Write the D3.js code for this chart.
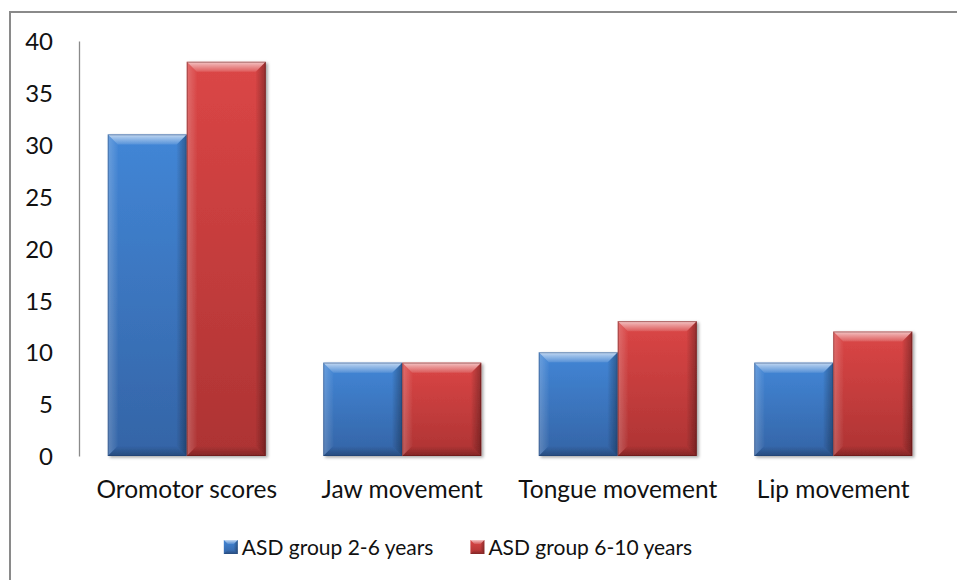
<!DOCTYPE html>
<html>
<head>
<meta charset="utf-8">
<script src="https://cdn.jsdelivr.net/npm/d3@7"></script>
<style>
  html, body { margin: 0; padding: 0; background: #fff; }
  svg { display: block; }
  text { font-family: Lato, "Open Sans", sans-serif; fill: #111; }
</style>
</head>
<body>
<svg id="chart" width="957" height="580"></svg>
<script>
// Oromotor assessment scores by age group
const categories = ["Oromotor scores", "Jaw movement", "Tongue movement", "Lip movement"];
const seriesNames = ["ASD group 2-6 years", "ASD group 6-10 years"];
const group2to6 = [31, 9, 10, 9];
const group6to10 = [38, 9, 13, 12];
const yTicks = [0, 5, 10, 15, 20, 25, 30, 35, 40];

const seriesValues = [group2to6, group6to10];
const palette = [
  { top: "#4286D6", bottom: "#3464A6", edge: "#1f3f6e", key: "blue" },
  { top: "#DB4646", bottom: "#AD3333", edge: "#5c1414", key: "red" }
];

const svg = d3.select("#chart");
const W = 957, H = 580;
const plot = { left: 79, right: 941, top: 41, bottom: 456 };

const defs = svg.append("defs");

// soft drop shadow used on bars and baseline
const shadow = defs.append("filter").attr("id", "shadow")
  .attr("x", "-20%").attr("y", "-20%").attr("width", "150%").attr("height", "150%");
shadow.append("feDropShadow").attr("dx", 2).attr("dy", 1.5)
  .attr("stdDeviation", 1.8).attr("flood-color", "#000").attr("flood-opacity", 0.35);

// body gradients per series
palette.forEach(p => {
  const g = defs.append("linearGradient").attr("id", "body-" + p.key)
    .attr("x1", 0).attr("y1", 0).attr("x2", 0).attr("y2", 1);
  g.append("stop").attr("offset", "0%").attr("stop-color", p.top);
  g.append("stop").attr("offset", "100%").attr("stop-color", p.bottom);
});

// bevel highlight / shade gradients
function grad(id, x2, y2, stops) {
  const g = defs.append("linearGradient").attr("id", id)
    .attr("x1", 0).attr("y1", 0).attr("x2", x2).attr("y2", y2);
  stops.forEach(s => g.append("stop").attr("offset", s[0])
    .attr("stop-color", s[1]).attr("stop-opacity", s[2]));
}
grad("bev-top", 0, 1, [["0%", "#fff", 0.7], ["40%", "#fff", 0.45], ["100%", "#fff", 0.12]]);
grad("bev-left", 1, 0, [["0%", "#fff", 0.22], ["100%", "#fff", 0.02]]);
grad("bev-right", 1, 0, [["0%", "#000", 0.02], ["100%", "#000", 0.32]]);
grad("bev-bottom", 0, 1, [["0%", "#000", 0.0], ["100%", "#000", 0.25]]);

// chart frame
svg.append("rect")
  .attr("x", 10).attr("y", 12)
  .attr("width", W + 20).attr("height", H + 20)
  .attr("fill", "none").attr("stroke", "#8a8a8a").attr("stroke-width", 2);

// scales
const x0 = d3.scaleBand().domain(categories)
  .range([plot.left, plot.right]).paddingInner(0.267).paddingOuter(0.1335);
const x1 = d3.scaleBand().domain(d3.range(seriesNames.length))
  .range([0, x0.bandwidth()]).padding(0);
const y = d3.scaleLinear().domain([0, 40]).range([plot.bottom, plot.top]);

// y axis: line + labels, no tick marks
const yAxis = d3.axisLeft(y).tickValues(yTicks).tickSize(0).tickPadding(26);
const yg = svg.append("g").attr("transform", `translate(${plot.left},0)`).call(yAxis);
yg.select(".domain").attr("stroke", "#8a8a8a").attr("stroke-width", 1.3);
yg.selectAll("text").style("font-size", "24px").attr("dy", "0.36em")
  .style("font-family", "Lato, 'Open Sans', sans-serif").attr("fill", "#111");

// bevelled bar
function drawBar(g, bx, by, bw, bh, p) {
  const s = Math.min(10, bh / 2, bw / 2);
  const bar = g.append("g").attr("filter", "url(#shadow)");
  bar.append("rect").attr("x", bx).attr("y", by).attr("width", bw).attr("height", bh)
    .attr("fill", `url(#body-${p.key})`);
  const poly = pts => pts.map(q => q.join(",")).join(" ");
  bar.append("polygon").attr("points", poly([[bx, by], [bx + bw, by], [bx + bw - s, by + s], [bx + s, by + s]]))
    .attr("fill", "url(#bev-top)");
  bar.append("polygon").attr("points", poly([[bx, by], [bx + s, by + s], [bx + s, by + bh - s], [bx, by + bh]]))
    .attr("fill", "url(#bev-left)");
  bar.append("polygon").attr("points", poly([[bx + bw, by], [bx + bw, by + bh], [bx + bw - s, by + bh - s], [bx + bw - s, by + s]]))
    .attr("fill", "url(#bev-right)");
  bar.append("polygon").attr("points", poly([[bx, by + bh], [bx + s, by + bh - s], [bx + bw - s, by + bh - s], [bx + bw, by + bh]]))
    .attr("fill", "url(#bev-bottom)");
  bar.append("rect").attr("x", bx + 0.5).attr("y", by + 0.5).attr("width", bw - 1).attr("height", bh - 1)
    .attr("fill", "none").attr("stroke", p.edge).attr("stroke-opacity", 0.45).attr("stroke-width", 1);
}

// bars
const barsG = svg.append("g");
categories.forEach((c, i) => {
  seriesValues.forEach((vals, s) => {
    const bx = x0(c) + x1(s);
    const by = y(vals[i]);
    drawBar(barsG, bx, by, x1.bandwidth(), y(0) - by, palette[s]);
  });
});

// x axis baseline and category labels
const xAxis = d3.axisBottom(x0).tickSize(0).tickPadding(25);
const xg = svg.append("g").attr("transform", `translate(0,${plot.bottom})`).call(xAxis);
xg.select(".domain").attr("stroke", "#8a8a8a").attr("stroke-width", 2.4).attr("filter", "url(#shadow)");
xg.selectAll("text").style("font-size", "24.5px")
  .style("font-family", "Lato, 'Open Sans', sans-serif").attr("fill", "#111");

// legend
const legend = svg.append("g");
const items = legend.selectAll("g").data(seriesNames).join("g");
items.append("text").attr("x", 18).attr("y", 0).attr("dy", "0.36em")
  .style("font-size", "21px").text(d => d);
let cursor = 0;
items.each(function (d, i) {
  const g = d3.select(this);
  const tw = g.select("text").node().getComputedTextLength();
  drawLegendKey(g, 0, -7, 14, 14, palette[i]);
  g.attr("transform", `translate(${cursor},0)`);
  cursor += 18 + tw + 37;
});
cursor -= 37;
legend.attr("transform", `translate(${458 - cursor / 2},547)`);

function drawLegendKey(g, kx, ky, kw, kh, p) {
  const s = 4;
  const poly = pts => pts.map(q => q.join(",")).join(" ");
  const k = g.append("g");
  k.append("rect").attr("x", kx).attr("y", ky).attr("width", kw).attr("height", kh)
    .attr("fill", `url(#body-${p.key})`);
  k.append("polygon").attr("points", poly([[kx, ky], [kx + kw, ky], [kx + kw - s, ky + s], [kx + s, ky + s]]))
    .attr("fill", "url(#bev-top)");
  k.append("polygon").attr("points", poly([[kx + kw, ky], [kx + kw, ky + kh], [kx + kw - s, ky + kh - s], [kx + kw - s, ky + s]]))
    .attr("fill", "url(#bev-right)");
  k.append("polygon").attr("points", poly([[kx, ky + kh], [kx + s, ky + kh - s], [kx + kw - s, ky + kh - s], [kx + kw, ky + kh]]))
    .attr("fill", "url(#bev-bottom)");
}
</script>
</body>
</html>
